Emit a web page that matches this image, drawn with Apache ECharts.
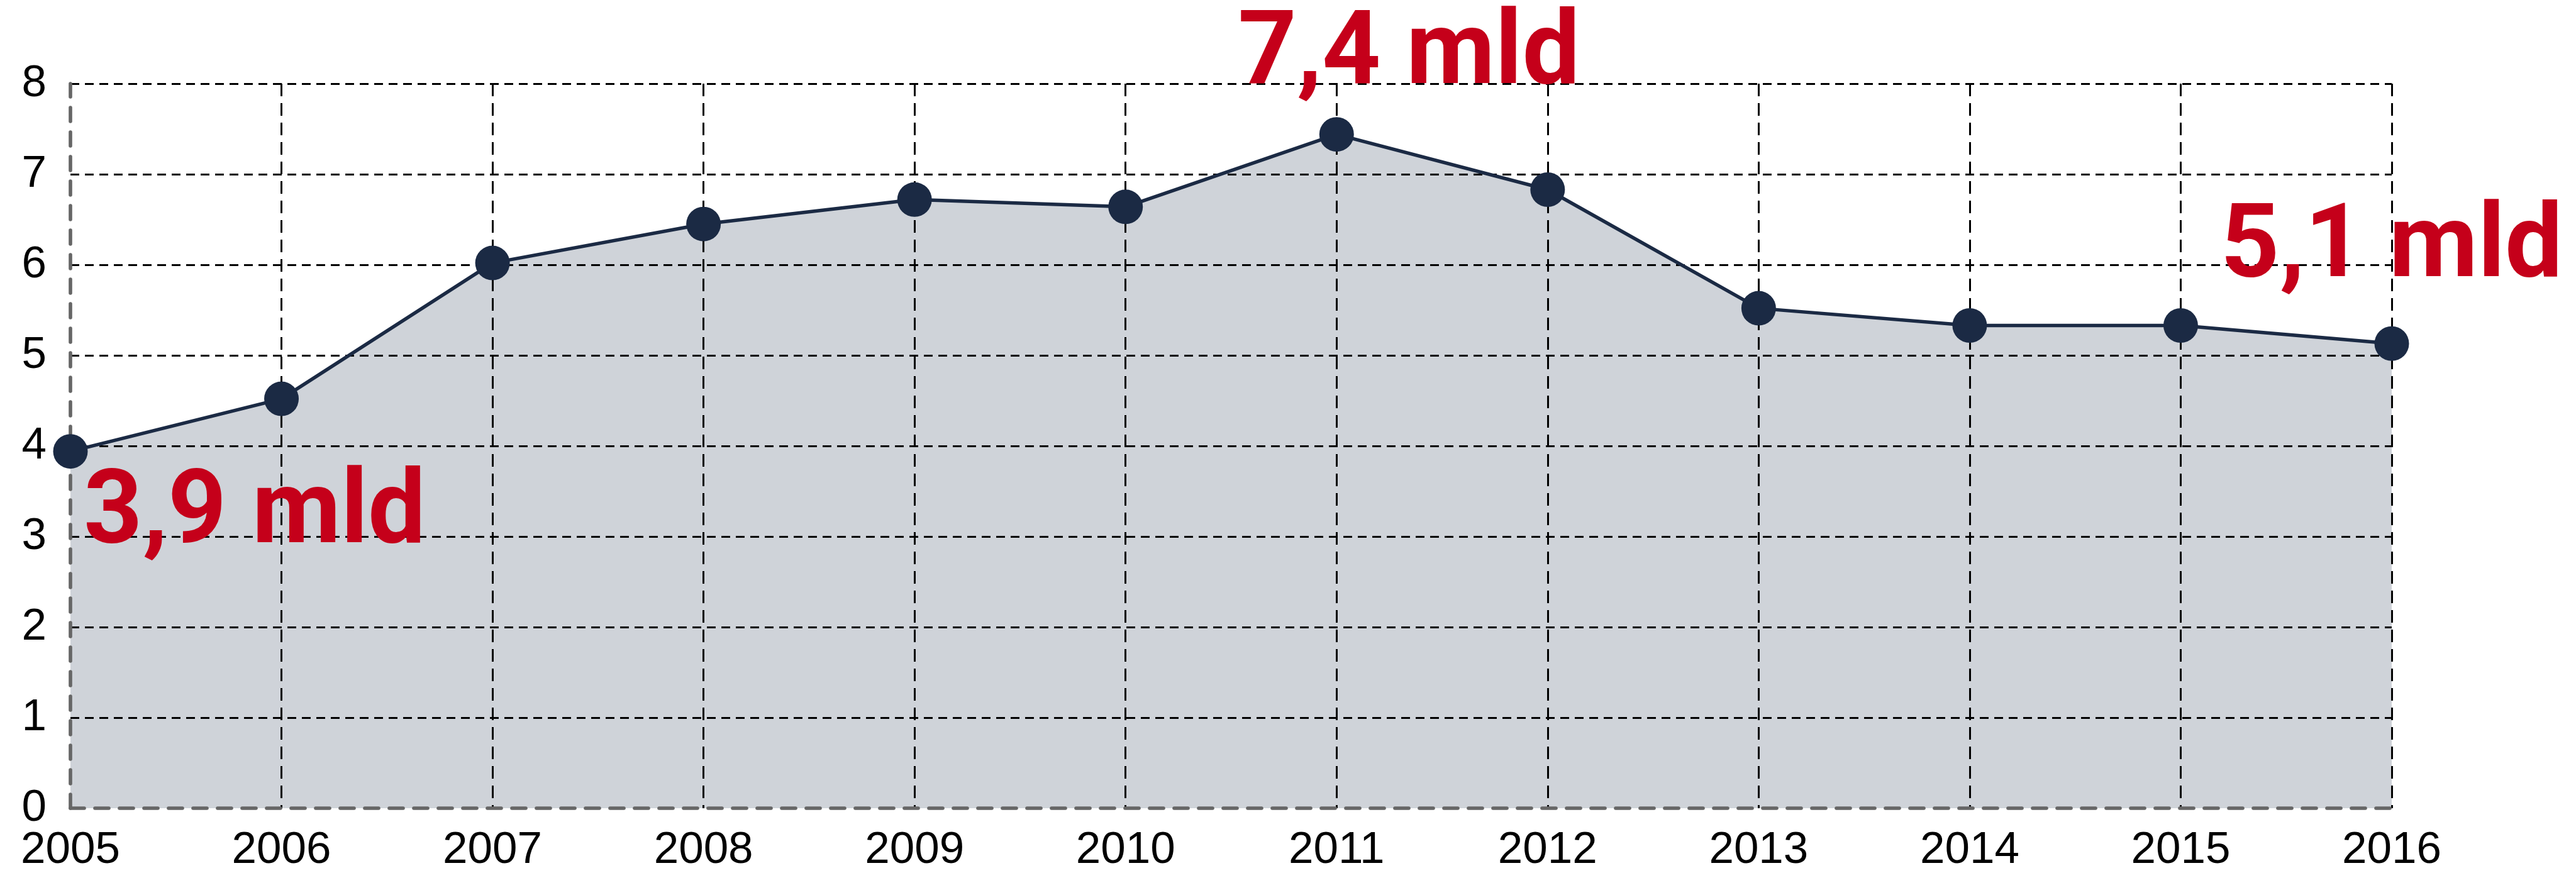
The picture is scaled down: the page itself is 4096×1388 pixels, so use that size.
<!DOCTYPE html>
<html>
<head>
<meta charset="utf-8">
<title>mld 2005–2016</title>
<script src="https://cdn.jsdelivr.net/npm/echarts@6/dist/echarts.min.js"></script>
<style>
  html, body { margin: 0; padding: 0; background: #ffffff; }
  #chart { width: 4096px; height: 1388px; }
</style>
</head>
<body>
<div id="chart"></div>
<script>
// Yearly totals (billions)
const years = ['2005', '2006', '2007', '2008', '2009', '2010', '2011', '2012', '2013', '2014', '2015', '2016'];
const values = [3.94, 4.52, 6.02, 6.45, 6.72, 6.64, 7.44, 6.83, 5.52, 5.33, 5.33, 5.13];
const yTicks = [0, 1, 2, 3, 4, 5, 6, 7, 8];
// Years whose value gets a red callout
const calloutYears = ['2005', '2011', '2016'];

const NAVY = '#1b2a44';
const FILL = '#cfd3d9';
const RED = '#c5001a';
const AXIS_GRAY = '#666666';

// Callout placement relative to the marker centre
const calloutOffset = {
  '2005': [293, 104],
  '2011': [115, -122],
  '2016': [0, -148]
};

function fmt(v) {
  return v.toFixed(1).replace('.', ',') + ' mld';
}

const lineData = values.map((v, i) => {
  const y = years[i];
  if (calloutYears.indexOf(y) === -1) return v;
  return {
    value: v,
    label: {
      show: true,
      position: 'inside',
      align: 'center',
      verticalAlign: 'middle',
      offset: calloutOffset[y],
      formatter: (p) => fmt(p.value),
      color: RED,
      fontFamily: 'Roboto, "Liberation Sans", sans-serif',
      fontWeight: 'bold',
      fontSize: 163
    }
  };
});

const chart = echarts.init(document.getElementById('chart'), null, { renderer: 'canvas' });

chart.setOption({
  animation: false,
  backgroundColor: '#ffffff',
  grid: { left: 112, right: 293, top: 133, bottom: 98, containLabel: false },
  xAxis: {
    type: 'category',
    data: years,
    boundaryGap: false,
    z: 5,
    axisLine: { show: true, lineStyle: { color: AXIS_GRAY, width: 5.6, type: [22, 17] } },
    axisTick: { show: false },
    axisLabel: {
      margin: 32,
      color: '#000000',
      fontFamily: '"Liberation Sans", Arial, sans-serif',
      fontSize: 71
    },
    splitLine: {
      show: true,
      interval: (idx) => idx !== 0,
      lineStyle: { color: '#000000', width: 3, type: [20, 11] }
    }
  },
  yAxis: {
    type: 'value',
    min: yTicks[0],
    max: yTicks[yTicks.length - 1],
    interval: 1,
    z: 4,
    axisLine: { show: true, lineStyle: { color: AXIS_GRAY, width: 5.6, type: [22, 17] } },
    axisTick: { show: false },
    axisLabel: {
      margin: 38,
      color: '#000000',
      fontFamily: '"Liberation Sans", Arial, sans-serif',
      fontSize: 71
    },
    splitLine: {
      show: true,
      showMinLine: false,
      lineStyle: { color: '#000000', width: 3, type: [14, 9] }
    }
  },
  series: [
    {
      // shaded area under the curve, kept beneath the grid lines
      type: 'line',
      data: values,
      z: -1,
      clip: false,
      silent: true,
      symbol: 'none',
      lineStyle: { width: 0, opacity: 0 },
      areaStyle: { color: FILL, opacity: 1 }
    },
    {
      type: 'line',
      data: lineData,
      z: 10,
      clip: false,
      symbol: 'circle',
      symbolSize: 55,
      itemStyle: { color: NAVY },
      lineStyle: { color: NAVY, width: 5.5 }
    }
  ]
});
</script>
</body>
</html>
